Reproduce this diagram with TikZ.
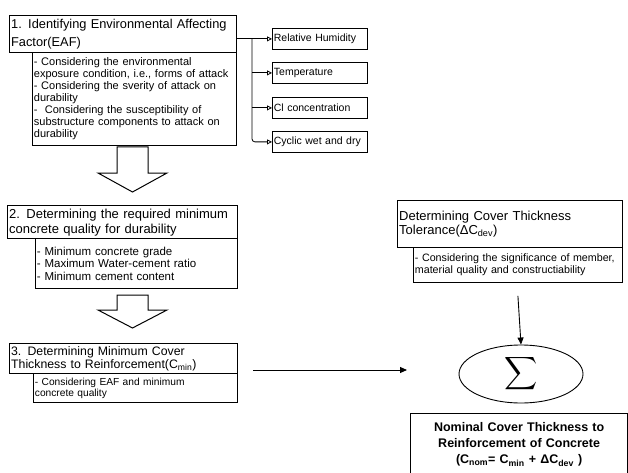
\documentclass[tikz,border=0pt]{standalone}
\usepackage{fontspec}
\usepackage{graphicx}
\setmainfont{Liberation Sans}
\usetikzlibrary{arrows.meta,shapes.geometric}
\newcommand\myfs[2]{\fontsize{#1}{#2}\selectfont}
\newcommand\myline[1]{\mbox{#1}}
\hyphenpenalty=10000
\begin{document}
\begin{tikzpicture}[x=1pt,y=-1pt,
  tbox/.style={draw, line width=1.3pt, anchor=north west, inner xsep=1.5pt, inner ysep=0pt, align=left},
  sbox/.style={draw, line width=0.8pt, anchor=north west, inner xsep=1.5pt, inner ysep=0pt, align=left},
  conn/.style={line width=0.8pt, -{Triangle[open,length=5pt,width=5pt]}},
  mainarrow/.style={line width=0.9pt, -{Triangle[length=7pt,width=6pt]}},
  blockarrow/.style={draw, line width=1pt, fill=white, line join=miter}]
\useasboundingbox (0,0) rectangle (628,473);

% Step 1
\node[tbox, minimum width=227pt, minimum height=37pt, text width=224pt, font=\myfs{12.8}{17.5}] (b1t) at (9,15)
  {\myline{1. Identifying Environmental Affecting}\\Factor(EAF)};
\node[sbox, minimum width=204pt, minimum height=93pt, text width=201pt, font=\myfs{11}{12}] (b1s) at (32,52)
  {\myline{- Considering the environmental}\\\myline{exposure condition, i.e., forms of attack}\\\myline{- Considering the sverity of attack on}\\durability\\\myline{-\ \ Considering the susceptibility of}\\\myline{substructure components to attack on}\\durability};

% factors
\node[sbox, minimum width=95pt, minimum height=21pt, text width=92pt, font=\myfs{10.5}{12}] (rh) at (272,28) {\myline{Relative Humidity}};
\node[sbox, minimum width=95pt, minimum height=21pt, text width=92pt, font=\myfs{10.5}{12}] (tp) at (272,62) {Temperature};
\node[sbox, minimum width=95pt, minimum height=21pt, text width=92pt, font=\myfs{10.5}{12}] (cl) at (272,97) {\myline{Cl concentration}};
\node[sbox, minimum width=95pt, minimum height=21pt, text width=92pt, font=\myfs{10.5}{12}] (cy) at (272,131) {\myline{Cyclic wet and dry}};
\coordinate (tk) at (252,38);
\draw[conn] (b1t.east |- rh.west) -- (rh.west);
\draw[conn, rounded corners=3pt] (tk |- rh.west) -- (tk |- cy.west) -- (cy.west);
\draw[conn] (tk |- tp.west) -- (tp.west);
\draw[conn] (tk |- cl.west) -- (cl.west);

% block arrow 1
\draw[blockarrow] (117,147) -- (148,147) -- (148,173) -- (167,173) -- (132.5,192) -- (98,173) -- (117,173) -- cycle;

% Step 2
\node[tbox, minimum width=230pt, minimum height=33pt, text width=227pt, font=\myfs{13}{15}] (b2t) at (7,205)
  {\myline{2. Determining the required minimum}\\\myline{concrete quality for durability}};
\node[sbox, minimum width=202pt, minimum height=50pt, text width=199pt, font=\myfs{11.5}{12.5}] (b2s) at (35,238)
  {\myline{- Minimum concrete grade}\\\myline{- Maximum Water-cement ratio}\\\myline{- Minimum cement content}};

% block arrow 2
\draw[blockarrow] (117,295) -- (148,295) -- (148,310) -- (167,310) -- (132.5,328) -- (98,310) -- (117,310) -- cycle;

% Step 3
\node[tbox, minimum width=228pt, minimum height=30pt, text width=225pt, font=\myfs{12.3}{13}] (b3t) at (9,343)
  {\myline{3. Determining Minimum Cover}\\\myline{Thickness to Reinforcement(C\textsubscript{min})}};
\node[sbox, minimum width=204pt, minimum height=29pt, text width=201pt, font=\myfs{10.2}{11}] (b3s) at (33,373)
  {\myline{- Considering EAF and minimum}\\\myline{concrete quality}};

% Tolerance
\node[tbox, minimum width=225pt, minimum height=47pt, text width=222pt, font=\myfs{13}{13.5}] (tt) at (397,200)
  {\myline{Determining Cover Thickness}\\\myline{Tolerance(ΔC\textsubscript{dev})}};
\node[sbox, minimum width=209pt, minimum height=35pt, text width=206pt, font=\myfs{10.7}{11.5}] (ts) at (413,247)
  {\myline{- Considering the significance of member,}\\\myline{material quality and constructiability}};

% Sum
\node[draw, ellipse, line width=0.9pt, minimum width=124pt, minimum height=58pt, inner sep=0pt] (sum) at (521,374)
  {\scalebox{2.3}{$\displaystyle\sum$}};
\draw[mainarrow] ([yshift=-13pt]ts.south) -- (sum.north);
\coordinate (hs) at (253,370);
\coordinate (he) at (407,370);
\draw[mainarrow] (hs) -- (he);

% Nominal
\node[tbox, minimum width=217pt, minimum height=62pt, text width=213pt, align=center, font=\bfseries\myfs{12.5}{16}] (nom) at (410,413)
  {\myline{Nominal Cover Thickness to}\\\myline{Reinforcement of Concrete}\\\myline{(C\textsubscript{nom}= C\textsubscript{min} + ΔC\textsubscript{dev} )}};
\end{tikzpicture}
\end{document}
